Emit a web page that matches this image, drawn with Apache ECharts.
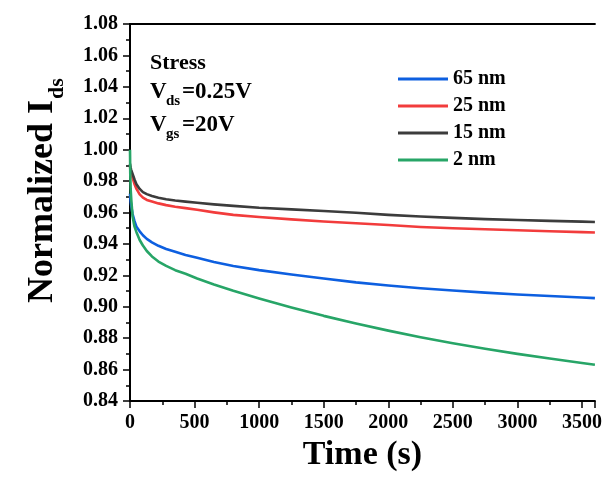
<!DOCTYPE html>
<html>
<head>
<meta charset="utf-8">
<script src="https://cdn.jsdelivr.net/npm/echarts@6/dist/echarts.min.js"></script>
<style>
    html, body { margin: 0; padding: 0; background: #fff; }
    #s1 { width: 605px; height: 485px; }
</style>
</head>
<body>
<div id="s1"></div>
<script>
// stress time (s)
var times = [0, 2, 5, 10, 20, 35, 50, 75, 100, 130, 170, 220, 280, 350, 430, 520, 650, 800, 1000, 1250, 1500, 1750, 2000, 2250, 2500, 2750, 3000, 3250, 3500, 3600];
// normalized Ids for each channel thickness
var ids65 = [0.972, 0.970, 0.967, 0.964, 0.959, 0.9545, 0.951, 0.948, 0.9455, 0.9432, 0.941, 0.9388, 0.9368, 0.935, 0.933, 0.9312, 0.9285, 0.926, 0.9233, 0.9205, 0.918, 0.9155, 0.9135, 0.9118, 0.9103, 0.909, 0.9078, 0.9068, 0.9059, 0.9055];
var ids25 = [0.989, 0.988, 0.9865, 0.985, 0.982, 0.978, 0.975, 0.9715, 0.9695, 0.968, 0.967, 0.9658, 0.9647, 0.9637, 0.9628, 0.9617, 0.9601, 0.9585, 0.9571, 0.9556, 0.9543, 0.9532, 0.952, 0.9508, 0.95, 0.9493, 0.9487, 0.9481, 0.9475, 0.9473];
var ids15 = [0.991, 0.990, 0.9885, 0.987, 0.9845, 0.981, 0.978, 0.975, 0.973, 0.9717, 0.9705, 0.9694, 0.9684, 0.9676, 0.9669, 0.9662, 0.9652, 0.9642, 0.963, 0.962, 0.961, 0.9598, 0.9585, 0.9575, 0.9566, 0.9558, 0.9552, 0.9547, 0.9542, 0.954];
var ids2 = [1.000, 0.985, 0.975, 0.968, 0.9575, 0.951, 0.9475, 0.9425, 0.939, 0.9355, 0.932, 0.9288, 0.926, 0.9233, 0.921, 0.918, 0.9142, 0.9102, 0.9053, 0.8996, 0.8942, 0.8893, 0.8848, 0.8806, 0.8768, 0.8733, 0.870, 0.867, 0.8642, 0.8631];
var names = ['65 nm', '25 nm', '15 nm', '2 nm'];
var colors = ['#0d5fe0', '#f23c3c', '#3c3c3c', '#27a567'];

function pairs(ys) {
    var out = [];
    for (var i = 0; i < times.length; i++) {
        out.push([times[i], ys[i]]);
    }
    return out;
}

function lineSeries(name, ys, color) {
    return {
        name: name,
        type: 'line',
        symbol: 'none',
        smooth: false,
        lineStyle: {color: color, width: 2.6, join: 'round'},
        itemStyle: {color: color},
        data: pairs(ys)
    };
}

function newCharts() {
    var chart = echarts.init(document.getElementById('s1'));
    var serif = '"Liberation Serif", "Times New Roman", serif';
    var axisLine = {show: true, lineStyle: {color: '#000', width: 2}};
    var option = {
        backgroundColor: '#fff',
        animation: false,
        color: colors,
        grid: {left: 130, right: 7, top: 24, bottom: 84},
        legend: {
            orient: 'vertical',
            left: 393,
            top: 64,
            icon: 'rect',
            itemWidth: 50,
            itemHeight: 3,
            itemGap: 7,
            textStyle: {fontFamily: serif, fontWeight: 'bold', fontSize: 20, lineHeight: 20, color: '#000'},
            data: names
        },
        xAxis: [{
            type: 'value',
            min: 0,
            max: 3600,
            interval: 500,
            name: 'Time (s)',
            nameLocation: 'middle',
            nameGap: 36,
            nameTextStyle: {fontFamily: serif, fontWeight: 'bold', fontSize: 34, color: '#000'},
            axisLine: axisLine,
            axisTick: {show: true, inside: false, length: 7, lineStyle: {color: '#000', width: 1.5}},
            minorTick: {show: true, splitNumber: 2, length: 4, lineStyle: {color: '#000', width: 1.5}},
            axisLabel: {
                fontFamily: serif, fontWeight: 'bold', fontSize: 20, color: '#000', margin: 12, showMaxLabel: false,
                formatter: function (v) { return String(v); }
            },
            splitLine: {show: false}
        }, {
            type: 'value',
            position: 'top',
            min: 0,
            max: 3600,
            interval: 500,
            axisLine: axisLine,
            axisTick: {show: false},
            axisLabel: {show: false},
            splitLine: {show: false}
        }],
        yAxis: [{
            type: 'value',
            min: 0.84,
            max: 1.08,
            interval: 0.02,
            axisLine: axisLine,
            axisTick: {show: true, inside: false, length: 7, lineStyle: {color: '#000', width: 1.5}},
            minorTick: {show: true, splitNumber: 2, length: 4, lineStyle: {color: '#000', width: 1.5}},
            axisLabel: {
                fontFamily: serif, fontWeight: 'bold', fontSize: 20, color: '#000', margin: 12,
                formatter: function (v) { return v.toFixed(2); }
            },
            splitLine: {show: false}
        }, {
            type: 'value',
            position: 'right',
            min: 0.84,
            max: 1.08,
            interval: 0.02,
            axisLine: axisLine,
            axisTick: {show: true, inside: true, length: 7, lineStyle: {color: '#000', width: 1.5}},
            minorTick: {show: true, splitNumber: 2, length: 4, lineStyle: {color: '#000', width: 1.5}},
            axisLabel: {show: false},
            splitLine: {show: false}
        }],
        graphic: [
            // y axis title, rotated
            {type: 'text', x: 43, y: 100, rotation: Math.PI / 2,
                style: {text: 'Normalized I', font: 'bold 36px ' + serif, fill: '#000', align: 'right', verticalAlign: 'middle'}},
            {type: 'text', x: 57, y: 99, rotation: Math.PI / 2,
                style: {text: 'ds', font: 'bold 22px ' + serif, fill: '#000', align: 'left', verticalAlign: 'middle'}},
            // stress conditions
            {type: 'text', x: 150, y: 63,
                style: {text: 'Stress', font: 'bold 22px ' + serif, fill: '#000', align: 'left', verticalAlign: 'middle'}},
            {type: 'text', x: 150, y: 92,
                style: {text: 'V', font: 'bold 23px ' + serif, fill: '#000', align: 'left', verticalAlign: 'middle'}},
            {type: 'text', x: 166, y: 101,
                style: {text: 'ds', font: 'bold 15px ' + serif, fill: '#000', align: 'left', verticalAlign: 'middle'}},
            {type: 'text', x: 182, y: 92,
                style: {text: '=0.25V', font: 'bold 23px ' + serif, fill: '#000', align: 'left', verticalAlign: 'middle'}},
            {type: 'text', x: 150, y: 125,
                style: {text: 'V', font: 'bold 23px ' + serif, fill: '#000', align: 'left', verticalAlign: 'middle'}},
            {type: 'text', x: 166, y: 134,
                style: {text: 'gs', font: 'bold 15px ' + serif, fill: '#000', align: 'left', verticalAlign: 'middle'}},
            {type: 'text', x: 182, y: 125,
                style: {text: '=20V', font: 'bold 23px ' + serif, fill: '#000', align: 'left', verticalAlign: 'middle'}}
        ],
        series: [
            lineSeries(names[0], ids65, colors[0]),
            lineSeries(names[1], ids25, colors[1]),
            lineSeries(names[2], ids15, colors[2]),
            lineSeries(names[3], ids2, colors[3])
        ]
    };
    chart.setOption(option);
}

newCharts();
</script>
</body>
</html>
